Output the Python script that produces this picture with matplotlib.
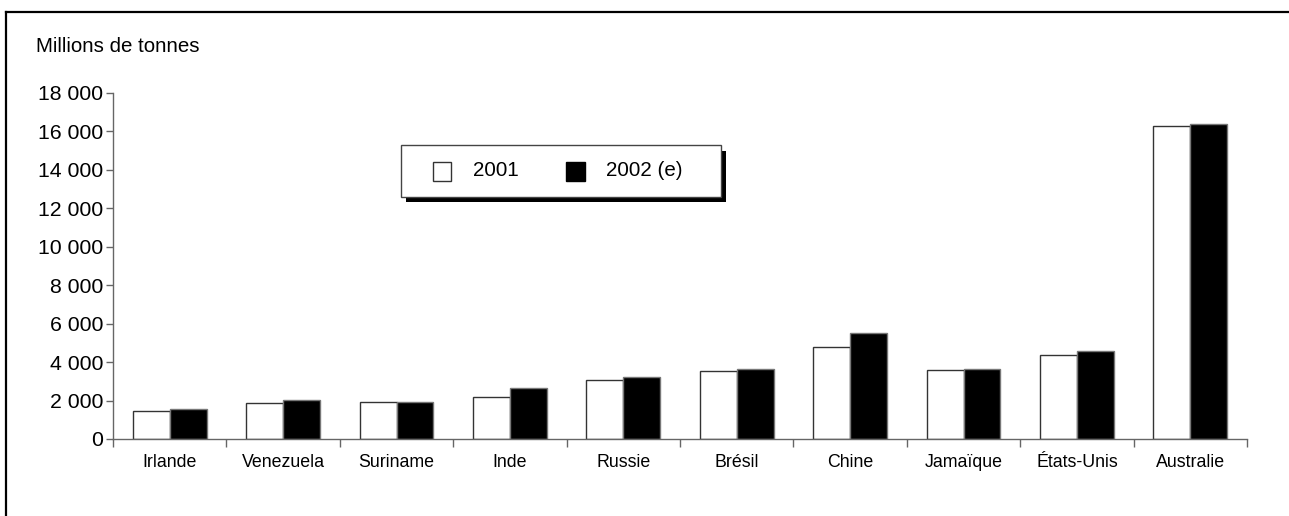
import matplotlib
matplotlib.use("Agg")
import matplotlib.pyplot as plt
from matplotlib.patches import Rectangle
from matplotlib.lines import Line2D
from matplotlib.ticker import FuncFormatter, FixedLocator

plt.rcParams['font.family'] = ['Liberation Sans', 'DejaVu Sans']

countries = ["Irlande", "Venezuela", "Suriname", "Inde", "Russie",
             "Brésil", "Chine", "Jamaïque", "États-Unis", "Australie"]
prod_2001 = [1480, 1880, 1930, 2180, 3080, 3540, 4790, 3570, 4370, 16290]
prod_2002 = [1570, 2020, 1930, 2650, 3220, 3660, 5500, 3660, 4560, 16400]
series_labels = ["2001", "2002 (e)"]
y_ticks = [0, 2000, 4000, 6000, 8000, 10000, 12000, 14000, 16000, 18000]
unit_label = "Millions de tonnes"

W, H = 1289, 516
fig = plt.figure(figsize=(W / 100, H / 100), dpi=100)

def fx(px):
    return px / W

def fy(py):
    return 1 - py / H

# outer frame (top and left edges)
fig.add_artist(Line2D([fx(6), 1], [fy(12), fy(12)], color="black", lw=1.6))
fig.add_artist(Line2D([fx(6), fx(6)], [fy(12), 0], color="black", lw=1.6))

ax = fig.add_axes([fx(113), fy(439), fx(1247) - fx(113), fy(93) - fy(439)])

x = list(range(len(countries)))
bw = 0.326
ax.bar([i - bw / 2 for i in x], prod_2001, width=bw, color="white",
       edgecolor="#333333", linewidth=1.0)
ax.bar([i + bw / 2 for i in x], prod_2002, width=bw, color="black",
       edgecolor="#777777", linewidth=1.0)

ax.set_xlim(-0.5, len(countries) - 0.5)
ax.set_ylim(0, 18000)

for s in ["top", "right"]:
    ax.spines[s].set_visible(False)
for s in ["left", "bottom"]:
    ax.spines[s].set_color("#666666")
    ax.spines[s].set_linewidth(1.0)

ax.yaxis.set_major_locator(FixedLocator(y_ticks))
ax.yaxis.set_major_formatter(FuncFormatter(lambda v, p: f"{int(v):,}".replace(",", " ")))
ax.tick_params(axis="y", length=5, width=1, color="#666666", labelsize=15.3, pad=2)

ax.xaxis.set_major_locator(FixedLocator([i - 0.5 for i in range(len(countries) + 1)]))
ax.xaxis.set_minor_locator(FixedLocator(x))
ax.xaxis.set_major_formatter(FuncFormatter(lambda v, p: ""))
ax.set_xticks(x, countries, minor=True)
ax.tick_params(axis="x", which="major", length=6, width=1, color="#666666")
ax.tick_params(axis="x", which="minor", length=0, labelsize=12.8, pad=10.5)

fig.text(fx(36), fy(47), unit_label, fontsize=14.8, va="center", ha="left")

# legend box with a solid drop shadow
fig.add_artist(Rectangle((fx(406), fy(202)), fx(320), fy(145) - fy(196),
                         facecolor="black", edgecolor="none"))
fig.add_artist(Rectangle((fx(401), fy(196.5)), fx(319.5), fy(145) - fy(196.5),
                         facecolor="white", edgecolor="#444444", linewidth=1.0))
fig.add_artist(Rectangle((fx(433), fy(180.5)), fx(18), fy(162) - fy(180.5),
                         facecolor="white", edgecolor="#333333", linewidth=1.0))
fig.add_artist(Rectangle((fx(566), fy(180.5)), fx(19), fy(162) - fy(180.5),
                         facecolor="black", edgecolor="black", linewidth=1.0))
fig.text(fx(473), fy(171), series_labels[0], fontsize=14.8, va="center", ha="left")
fig.text(fx(606), fy(171), series_labels[1], fontsize=14.8, va="center", ha="left")

fig.savefig("out.png", dpi=100, facecolor="white")
